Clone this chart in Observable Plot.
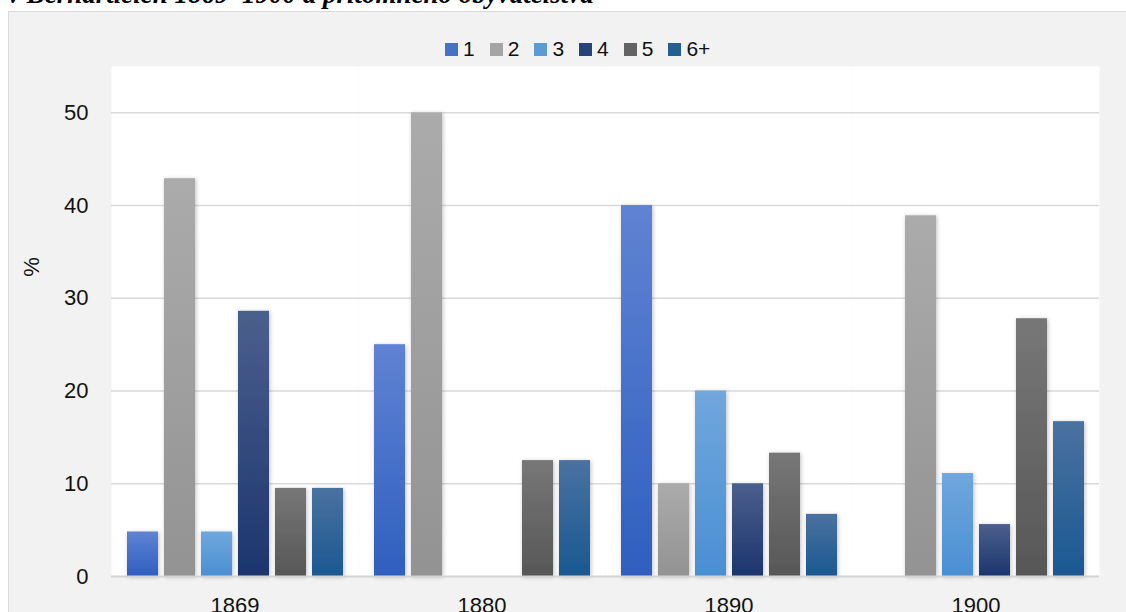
<!DOCTYPE html>
<html>
<head>
<meta charset="utf-8">
<script src="https://cdn.jsdelivr.net/npm/d3@7"></script>
<script src="https://cdn.jsdelivr.net/npm/@observablehq/plot@0.6"></script>
<style>
  body { margin: 0; width: 1126px; height: 612px; overflow: hidden; background: #fff; position: relative; font-family: Arial, "Liberation Sans", sans-serif; }
  #title { position: absolute; left: 8px; top: -19px; font: italic bold 27px/27px "Liberation Serif", "Times New Roman", serif; white-space: nowrap; color: #000; }
  #box { position: absolute; left: 8px; top: 11px; width: 1200px; height: 700px; background: #f2f2f2; border: 1px solid #d9d9d9; box-sizing: border-box; }
  #legend { position: absolute; left: 445px; top: 39px; height: 20px; display: flex; align-items: center; font-size: 21px; line-height: 20px; color: #111; }
  .item { display: flex; align-items: center; margin-right: 15px; }
  .sw { width: 13px; height: 13px; margin-right: 5px; }
  #ylab { position: absolute; left: 12px; top: 255px; width: 40px; height: 24px; line-height: 24px; text-align: center; font-size: 22px; color: #111; transform: rotate(-90deg); }
  #chart { position: absolute; left: 0; top: 0; }
</style>
</head>
<body>
<div id="title">v Bernarticích 1869–1900 a přítomného obyvatelstva</div>
<div id="box"></div>
<div id="chart"></div>
<div id="legend"></div>
<div id="ylab">%</div>
<script>
const years = ["1869", "1880", "1890", "1900"];
const series = ["1", "2", "3", "4", "5", "6+"];
const v1869 = [4.8, 42.9, 4.8, 28.6, 9.5, 9.5];
const v1880 = [25, 50, 0, 0, 12.5, 12.5];
const v1890 = [40, 10, 20, 10, 13.3, 6.7];
const v1900 = [0, 38.9, 11.1, 5.6, 27.8, 16.7];
const yTicks = [0, 10, 20, 30, 40, 50];
const gridTicks = [10, 20, 30, 40, 50];
const legendColors = ["#4472c4", "#a5a5a5", "#5b9bd5", "#264478", "#636363", "#255e91"];
const gradTop = ["#5f83d3", "#ababab", "#70a7dd", "#4b5f8d", "#777777", "#4a72a0"];
const gradBottom = ["#2f5fbf", "#939393", "#4a8fd3", "#1c356d", "#575757", "#1a5891"];

const byYear = [v1869, v1880, v1890, v1900];
const rows = [];
years.forEach((yr, i) => series.forEach((s, j) => rows.push({year: yr, series: s, value: byYear[i][j]})));

const chart = Plot.plot({
  width: 1126,
  height: 640,
  marginLeft: 111,
  marginRight: 27,
  marginTop: 66,
  marginBottom: 64,
  style: {background: "transparent", fontSize: "22px", fontFamily: "Arial, 'Liberation Sans', sans-serif", color: "#111"},
  facet: {data: rows, x: "year"},
  fx: {domain: years, padding: 0, label: null, tickSize: 0, tickPadding: 21},
  x: {domain: series, axis: null, paddingInner: 0.17, paddingOuter: 0.385},
  y: {domain: [0, 55], ticks: yTicks, tickSize: 0, tickPadding: 23, label: null},
  color: {domain: series, range: series.map((s, i) => `url(#grad${i})`)},
  marks: [
    Plot.frame({fill: "white", stroke: null}),
    Plot.ruleY(gridTicks, {stroke: "#d9d9d9", strokeWidth: 1.5}),
    Plot.barY(rows, {x: "series", y: "value", fill: "series"}),
    Plot.ruleY([0], {stroke: "#d4d4d4", strokeWidth: 2})
  ]
});

const svg = d3.select(chart.tagName.toLowerCase() === "svg" ? chart : chart.querySelector("svg"));
const defs = svg.insert("defs", ":first-child");
series.forEach((s, i) => {
  const g = defs.append("linearGradient").attr("id", `grad${i}`).attr("x1", 0).attr("y1", 0).attr("x2", 0).attr("y2", 1);
  g.append("stop").attr("offset", "0%").attr("stop-color", gradTop[i]);
  g.append("stop").attr("offset", "100%").attr("stop-color", gradBottom[i]);
});
const f = defs.append("filter").attr("id", "shadow").attr("x", "-30%").attr("y", "-10%").attr("width", "160%").attr("height", "120%");
f.append("feDropShadow").attr("dx", 1).attr("dy", 1).attr("stdDeviation", 2).attr("flood-color", "#000").attr("flood-opacity", 0.25);
svg.selectAll("g[aria-label='bar'] rect").attr("filter", "url(#shadow)");

document.getElementById("chart").appendChild(chart);

const legend = d3.select("#legend");
series.forEach((s, i) => {
  const it = legend.append("div").attr("class", "item");
  it.append("div").attr("class", "sw").style("background", legendColors[i]);
  it.append("span").text(s);
});
</script>
</body>
</html>
